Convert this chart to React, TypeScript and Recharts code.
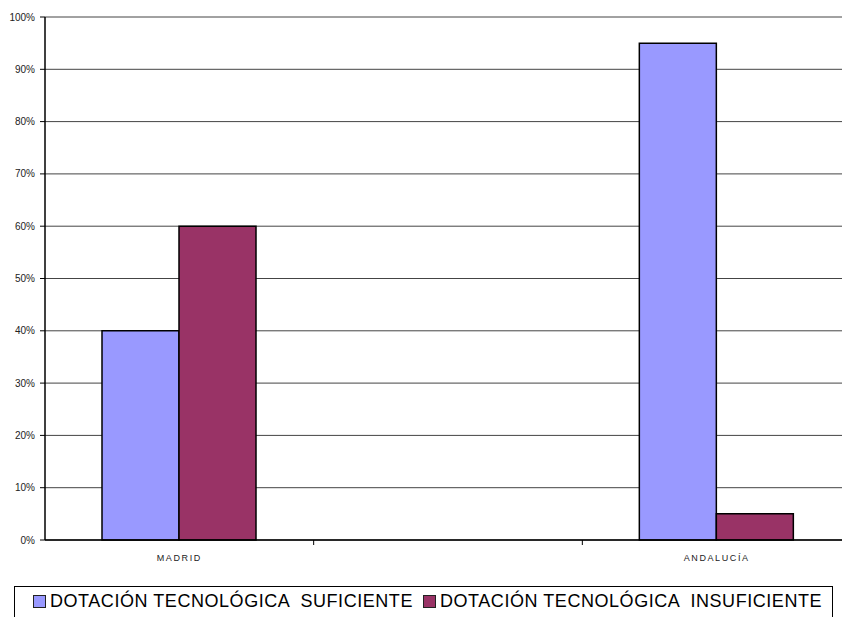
import { BarChart, Bar, XAxis, YAxis, CartesianGrid } from 'recharts';

const regions = ['MADRID', '', 'ANDALUCÍA'];
const suficiente = [40, null, 95];
const insuficiente = [60, null, 5];
const yTicks = [0, 10, 20, 30, 40, 50, 60, 70, 80, 90, 100];
const seriesNames = ['DOTACIÓN TECNOLÓGICA  SUFICIENTE', 'DOTACIÓN TECNOLÓGICA  INSUFICIENTE'];
const seriesColors = ['#9999FF', '#993366'];

const font = '"Liberation Sans", Arial, sans-serif';

const data = regions.map((region, i) => ({
  region,
  suficiente: suficiente[i],
  insuficiente: insuficiente[i],
}));

// category label plus a tick mark on the left edge of each band
function CategoryTick(props: any) {
  const { x, y, payload, index } = props;
  const half = payload && payload.offset ? payload.offset : 0;
  return (
    <g>
      {index > 0 && (
        <line x1={x - half} y1={y - 8} x2={x - half} y2={y - 3} stroke="#000" strokeWidth={1} />
      )}
      <text
        x={x}
        y={y + 13}
        textAnchor="middle"
        fontSize={9}
        fontFamily={font}
        fill="#222"
        letterSpacing={1.6}
      >
        {payload.value}
      </text>
    </g>
  );
}

export default function App() {
  return (
    <div style={{ position: 'absolute', left: 0, top: 0, width: 842, height: 617, overflow: 'hidden', background: '#fff' }}>
      <BarChart
        width={860}
        height={617}
        data={data}
        margin={{ top: 17, right: 9, left: 0, bottom: 47 }}
        barSize={77}
        barGap={0}
      >
        <CartesianGrid vertical={false} stroke="#444" strokeWidth={1} />
        <XAxis
          dataKey="region"
          height={30}
          tickLine={false}
          axisLine={{ stroke: '#000', strokeWidth: 1.5 }}
          tick={<CategoryTick />}
          interval={0}
        />
        <YAxis
          width={45}
          domain={[0, 100]}
          ticks={yTicks}
          interval={0}
          tickFormatter={(v: number) => `${v}%`}
          tickSize={5}
          tickMargin={5}
          tickLine={{ stroke: '#000' }}
          axisLine={{ stroke: '#000', strokeWidth: 1.5 }}
          tick={{ fontSize: 10, fontFamily: font, fill: '#222' }}
        />
        <Bar dataKey="suficiente" fill={seriesColors[0]} stroke="#000" strokeWidth={1.5} isAnimationActive={false} />
        <Bar dataKey="insuficiente" fill={seriesColors[1]} stroke="#000" strokeWidth={1.5} isAnimationActive={false} />
      </BarChart>
      <div
        style={{
          position: 'absolute',
          left: 14,
          top: 586,
          width: 819,
          height: 40,
          border: '1px solid #000',
          boxSizing: 'border-box',
          display: 'flex',
          alignItems: 'flex-start',
          paddingLeft: 18,
          paddingTop: 4,
          fontFamily: font,
          fontSize: 18,
          letterSpacing: 0.55,
          color: '#000',
          whiteSpace: 'pre',
        }}
      >
        {seriesNames.map((name, i) => (
          <span key={name} style={{ display: 'flex', alignItems: 'center', marginRight: 10 }}>
            <span
              style={{
                display: 'inline-block',
                width: 11,
                height: 11,
                background: seriesColors[i],
                border: '1px solid #222',
                marginRight: 4,
              }}
            />
            {name}
          </span>
        ))}
      </div>
    </div>
  );
}
